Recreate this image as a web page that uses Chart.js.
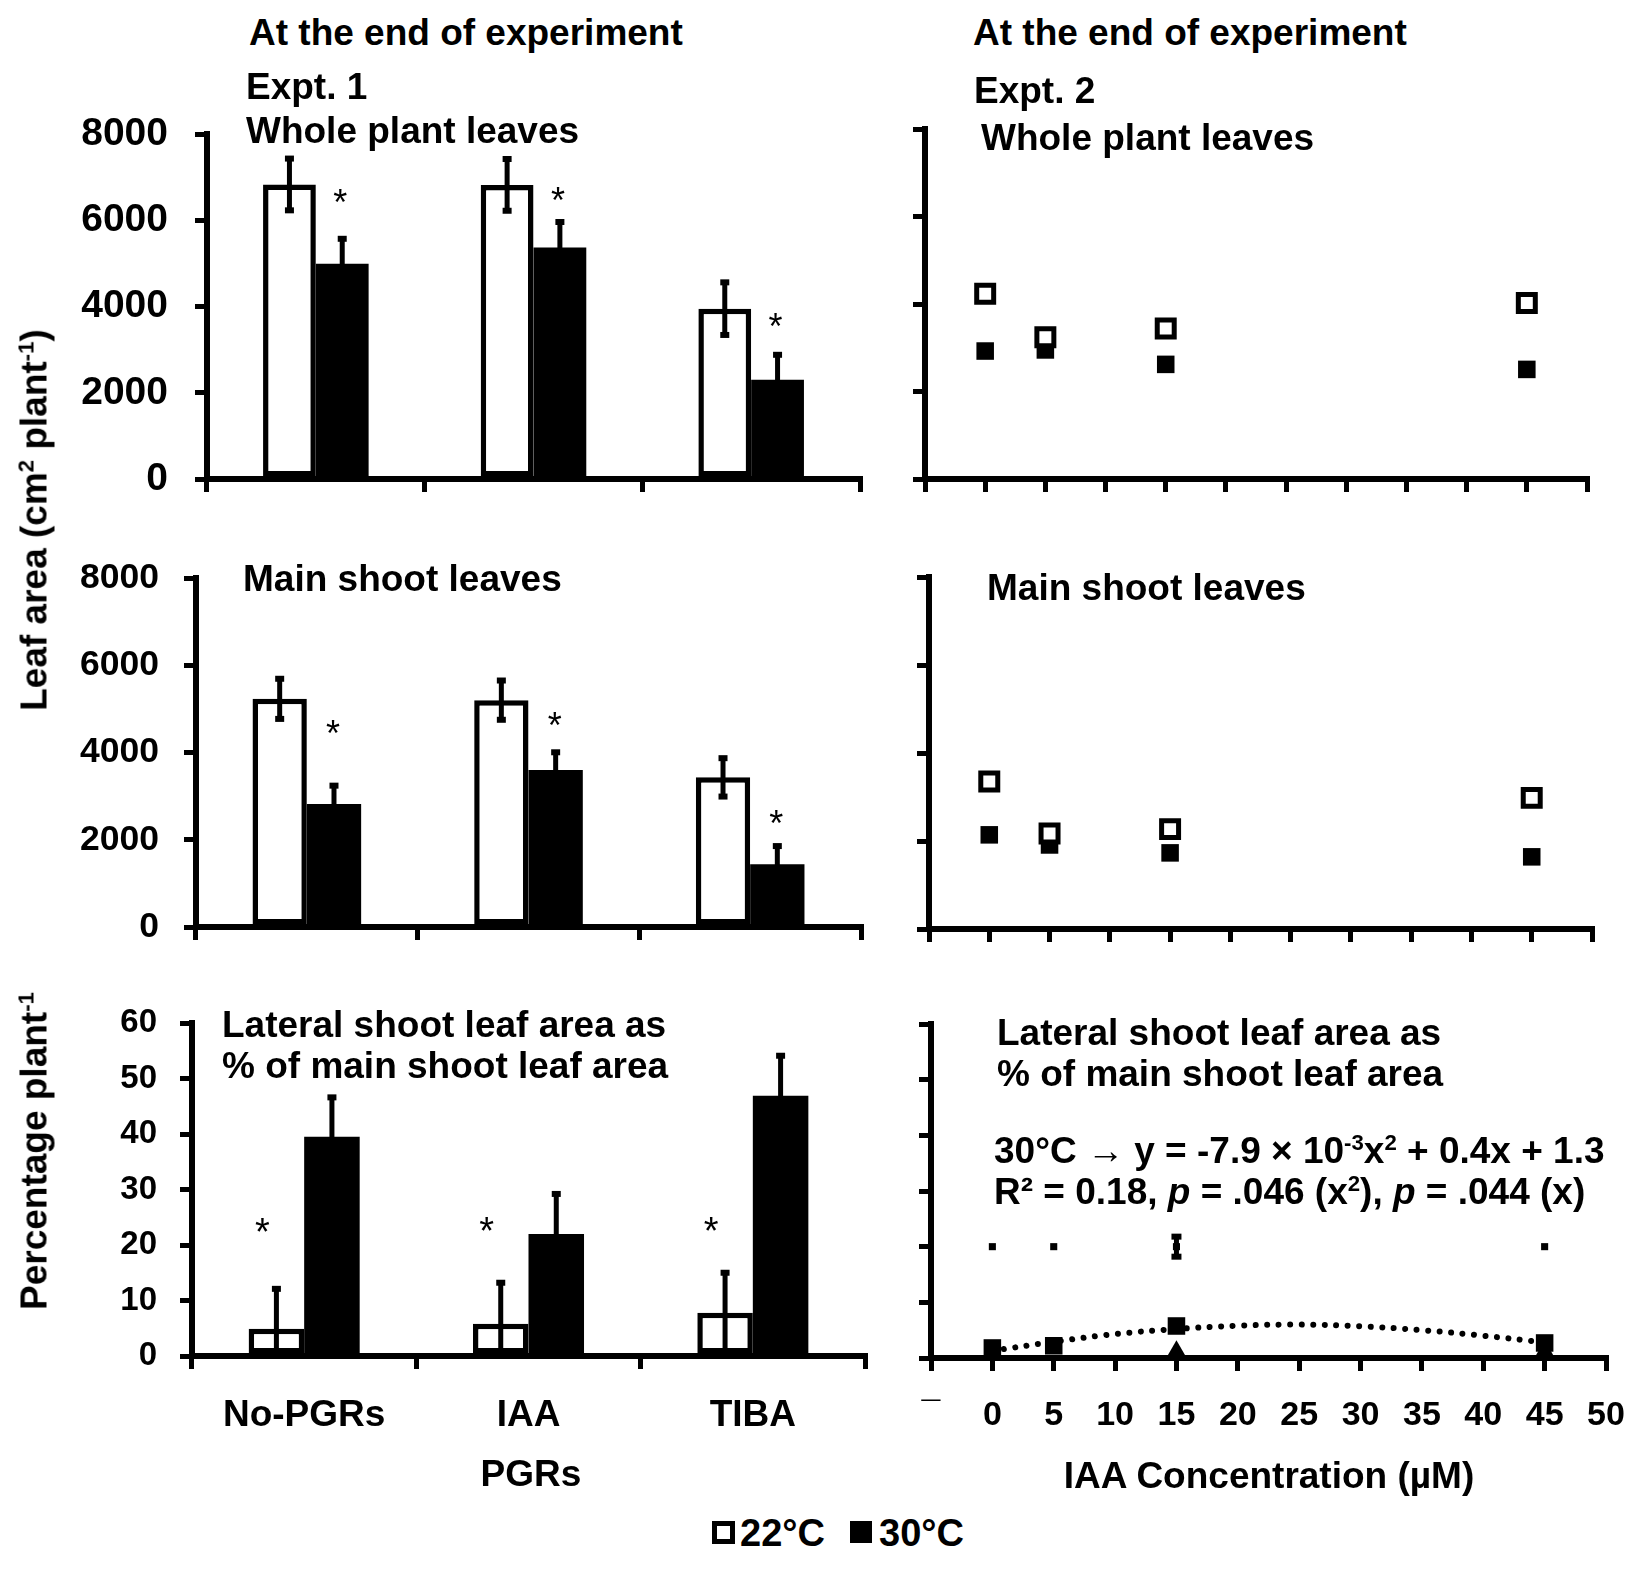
<!DOCTYPE html>
<html>
<head>
<meta charset="utf-8">
<script src="https://cdn.jsdelivr.net/npm/chart.js@4.4.1/dist/chart.umd.min.js"></script>
<style>
body { margin: 0; background: #fff; }
#fig { position: relative; width: 1649px; height: 1579px; overflow: hidden; background: #fff;
       font-family: "Liberation Sans", Arial, Helvetica, sans-serif; font-weight: bold; color: #000; }
canvas { position: absolute; }
.t { position: absolute; white-space: nowrap; font-size: 37px; line-height: 1; }
.rot { transform: translate(-50%, -50%) rotate(-90deg); }
sup { font-size: 0.6em; vertical-align: 0.6em; line-height: 0; }
</style>
</head>
<body>
<div id="fig">
  <div class="t" style="left:249px; top:14px;">At the end of experiment</div>
  <div class="t" style="left:246px; top:68px;">Expt. 1</div>
  <div class="t" style="left:246px; top:112px;">Whole plant leaves</div>
  <div class="t" style="left:973px; top:14px;">At the end of experiment</div>
  <div class="t" style="left:974px; top:72px;">Expt. 2</div>
  <div class="t" style="left:981px; top:119px;">Whole plant leaves</div>
  <div class="t" style="left:243px; top:560px;">Main shoot leaves</div>
  <div class="t" style="left:987px; top:569px;">Main shoot leaves</div>
  <div class="t" style="left:222px; top:1006px;">Lateral shoot leaf area as</div>
  <div class="t" style="left:222px; top:1047px;">% of main shoot leaf area</div>
  <div class="t" style="left:997px; top:1014px;">Lateral shoot leaf area as</div>
  <div class="t" style="left:997px; top:1055px;">% of main shoot leaf area</div>
  <div class="t" style="left:994px; top:1132px;">30°C → y = -7.9 × 10<sup>-3</sup>x<sup>2</sup> + 0.4x + 1.3</div>
  <div class="t" style="left:994px; top:1173px;">R² = 0.18, <i>p</i> = .046 (x<sup>2</sup>), <i>p</i> = .044 (x)</div>
  <div class="t" style="left:531px; top:1455px; transform:translateX(-50%);">PGRs</div>
  <div class="t" style="left:1269px; top:1457px; transform:translateX(-50%);">IAA Concentration (µM)</div>
  <div class="t rot" style="left:34px; top:520px;">Leaf area (cm<sup>2</sup> plant<sup>-1</sup>)</div>
  <div class="t rot" style="left:34px; top:1151px;">Percentage plant<sup>-1</sup></div>
  <div style="position:absolute; left:712px; top:1521px; width:13px; height:13px; border:5px solid #000; background:#fff;"></div>
  <div class="t" style="left:740px; top:1514px; font-size:38px;">22°C</div>
  <div style="position:absolute; left:850px; top:1521px; width:22px; height:22px; background:#000;"></div>
  <div class="t" style="left:879px; top:1514px; font-size:38px;">30°C</div>
</div>
<script>
// Expt. 1 (bars)
var pgrs = ['No-PGRs', 'IAA', 'TIBA'];
var whole22 = [6830, 6820, 3950];
var whole22err = [600, 600, 610];
var whole30 = [4990, 5370, 2300];
var whole30err = [580, 590, 580];
var main22 = [5230, 5200, 3430];
var main22err = [460, 450, 440];
var main30 = [2820, 3600, 1440];
var main30err = [420, 405, 415];
var lat22 = [4.9, 5.8, 7.8];
var lat22err = [7.2, 7.4, 7.2];
var lat30 = [39.5, 22.0, 46.9];
var lat30err = [7.1, 7.2, 7.2];
var starsWhole = [6550, 6600, 3670];
var starsMain = [4570, 4750, 2520];
var starsLat = [23.5, 23.8, 23.8];

// Expt. 2 (IAA concentration)
var iaaConc = [0, 5, 15, 45];
var wholeE2_22 = [4235, 3240, 3440, 4025];
var wholeE2_30 = [2925, 2950, 2620, 2505];
var mainE2_22 = [3350, 2170, 2270, 2980];
var mainE2_30 = [2140, 1910, 1730, 1640];
var latE2_30 = [1.8, 2.2, 5.75, 2.7];
var latE2_small = [20, 20, 20, 20];
var latE2_smallErr = [0, 0, 1.8, 0];
var triX = [15, 45];
var triY = [1.3, 1.3];
var trendX = [0, 5, 10, 15, 20, 25, 30, 35, 40, 45];
var trendY = [1.3, 2.9, 4.3, 5.2, 5.8, 6.0, 5.7, 5.0, 4.0, 2.8];

Chart.defaults.font.family = '"Liberation Sans", Arial, Helvetica, sans-serif';
Chart.defaults.font.weight = 'bold';
Chart.defaults.color = '#000';

var YW = 160, PT = 70, PR = 70, XH = 110;

function pts(xs, ys) {
  return xs.map(function (x, i) { return {x: x, y: ys[i]}; });
}

function line(ctx, x1, y1, x2, y2) {
  ctx.beginPath(); ctx.moveTo(x1, y1); ctx.lineTo(x2, y2); ctx.stroke();
}

var errorBars = {
  id: 'errorBars',
  afterDatasetsDraw: function (chart) {
    var ctx = chart.ctx, ys = chart.scales.y, a = chart.chartArea;
    ctx.save();
    ctx.beginPath();
    ctx.rect(a.left, a.top - 30, a.right - a.left, a.bottom - a.top + 30);
    ctx.clip();
    ctx.strokeStyle = '#000';
    chart.data.datasets.forEach(function (ds, di) {
      if (!ds.errors) return;
      var meta = chart.getDatasetMeta(di);
      var cap = ds.capHalf || 4.5;
      meta.data.forEach(function (el, i) {
        var e = ds.errors[i];
        if (!e) return;
        var v = ds.data[i];
        if (typeof v === 'object') v = v.y;
        var y1 = ys.getPixelForValue(v + e), y2 = ys.getPixelForValue(v - e);
        ctx.lineWidth = ds.errLine || 5;
        line(ctx, el.x, y1, el.x, y2);
        ctx.lineWidth = 6;
        line(ctx, el.x - cap, y1, el.x + cap, y1);
        line(ctx, el.x - cap, y2, el.x + cap, y2);
      });
    });
    ctx.restore();
  }
};

var stars = {
  id: 'stars',
  afterDatasetsDraw: function (chart, args, opts) {
    if (!opts || !opts.values) return;
    var ctx = chart.ctx, meta = chart.getDatasetMeta(opts.dataset);
    ctx.save();
    ctx.fillStyle = '#000';
    ctx.font = 'normal ' + opts.size + 'px "Liberation Sans", Arial, sans-serif';
    ctx.textAlign = 'center';
    ctx.textBaseline = 'middle';
    opts.values.forEach(function (v, i) {
      ctx.fillText('*', meta.data[i].x + (opts.dx || 0), chart.scales.y.getPixelForValue(v) + opts.size * 0.24);
    });
    ctx.restore();
  }
};

function yAxis(max, step, size, pad) {
  return {
    min: 0, max: max,
    ticks: {stepSize: step, display: size > 0, font: {size: size || 12, weight: 'bold'}, padding: pad, color: '#000',
            callback: function (v) { return String(v); }},
    grid: {drawOnChartArea: false, drawTicks: true, tickLength: 12, lineWidth: 5, color: '#000'},
    border: {display: true, width: 6, color: '#000'},
    afterFit: function (s) { s.width = YW; }
  };
}

function xCat(show) {
  return {
    type: 'category', offset: true,
    ticks: {display: show, font: {size: 37, weight: 'bold'}, padding: 25, maxRotation: 0, autoSkip: false, color: '#000'},
    grid: {offset: true, drawOnChartArea: false, drawTicks: true, tickLength: 13, lineWidth: 5, color: '#000'},
    border: {display: true, width: 6, color: '#000'},
    afterFit: function (s) { s.height = XH; }
  };
}

function xConc(show) {
  return {
    type: 'linear', min: -5, max: 50,
    ticks: {stepSize: 5, display: show, font: {size: 34, weight: 'bold'}, padding: 24, maxRotation: 0, autoSkip: false, color: '#000',
            callback: function (v) { return v === -5 ? '¯' : String(v); }},
    grid: {drawOnChartArea: false, drawTicks: true, tickLength: 13, lineWidth: 5, color: '#000'},
    border: {display: true, width: 6, color: '#000'},
    afterFit: function (s) { s.height = XH; }
  };
}

function makeChart(g, config) {
  var fig = document.getElementById('fig');
  var c = document.createElement('canvas');
  var w = g.right - g.ax + YW + PR, h = g.bottom - g.top + PT + XH;
  c.width = w; c.height = h;
  c.style.left = (g.ax - YW) + 'px';
  c.style.top = (g.top - PT) + 'px';
  c.style.width = w + 'px';
  c.style.height = h + 'px';
  fig.insertBefore(c, fig.firstChild);
  config.options.responsive = false;
  config.options.animation = false;
  config.options.layout = {padding: {left: 0, top: PT, right: PR, bottom: 0}};
  config.options.plugins.legend = {display: false};
  config.options.plugins.tooltip = {enabled: false};
  config.plugins = [errorBars, stars];
  return new Chart(c, config);
}

function barChart(g, d22, e22, d30, e30, catPct, yx, showX, starOpts) {
  makeChart(g, {
    type: 'bar',
    data: {
      labels: pgrs,
      datasets: [
        {label: '22°C', data: d22, errors: e22, backgroundColor: '#fff', borderColor: '#000', borderWidth: 5.5,
         borderSkipped: false, categoryPercentage: catPct, barPercentage: 1},
        {label: '30°C', data: d30, errors: e30, backgroundColor: '#000', borderColor: '#000', borderWidth: 0,
         categoryPercentage: catPct, barPercentage: 1}
      ]
    },
    options: {
      scales: {x: xCat(showX), y: yx},
      plugins: {stars: starOpts}
    }
  });
}

function pointSet(label, ys, open) {
  return {
    label: label, data: pts(iaaConc, ys), clip: false,
    pointStyle: 'rect', pointRadius: open ? 12 : 12.4,
    pointBackgroundColor: open ? '#fff' : '#000', pointBorderColor: '#000', pointBorderWidth: open ? 5 : 0
  };
}

function scatterChart(g, ymax, step, datasets, showX) {
  makeChart(g, {
    type: 'scatter',
    data: {datasets: datasets},
    options: {
      scales: {x: xConc(showX), y: yAxis(ymax, step, 0, 0)},
      plugins: {stars: {}}
    }
  });
}

// left column: Expt. 1
barChart({ax: 207, top: 134, bottom: 479, right: 860}, whole22, whole22err, whole30, whole30err, 0.485,
         yAxis(8000, 2000, 39, 27), false, {values: starsWhole, dataset: 1, dx: -2, size: 36});
barChart({ax: 196, top: 578, bottom: 927, right: 861}, main22, main22err, main30, main30err, 0.49,
         yAxis(8000, 2000, 35.5, 25), false, {values: starsMain, dataset: 1, dx: -1, size: 36});
barChart({ax: 192, top: 1023, bottom: 1356, right: 865}, lat22, lat22err, lat30, lat30err, 0.495,
         yAxis(60, 10, 33, 23), true, {values: starsLat, dataset: 0, dx: -14, size: 38});

// right column: Expt. 2
scatterChart({ax: 925, top: 129, bottom: 479, right: 1587}, 8000, 2000,
             [pointSet('22°C', wholeE2_22, true), pointSet('30°C', wholeE2_30, false)], false);
scatterChart({ax: 929, top: 577, bottom: 929, right: 1592}, 8000, 2000,
             [pointSet('22°C', mainE2_22, true), pointSet('30°C', mainE2_30, false)], false);
scatterChart({ax: 931, top: 1024, bottom: 1358, right: 1606}, 60, 10, [
  pointSet('30°C', latE2_30, false),
  {label: 'tri', data: pts(triX, triY), clip: false, pointStyle: 'triangle', pointRadius: 10.5,
   pointBackgroundColor: '#000', pointBorderColor: '#000', pointBorderWidth: 0},
  {label: 'small', data: pts(iaaConc, latE2_small), errors: latE2_smallErr, capHalf: 5, errLine: 5, clip: false,
   pointStyle: 'rect', pointRadius: 5, pointBackgroundColor: '#000', pointBorderColor: '#000', pointBorderWidth: 0},
  {label: 'trend', data: pts(trendX, trendY), showLine: true, pointRadius: 0, borderColor: '#000',
   borderWidth: 6, borderDash: [0.01, 11.5], borderCapStyle: 'round', tension: 0.4, fill: false}
], true);
</script>
</body>
</html>
